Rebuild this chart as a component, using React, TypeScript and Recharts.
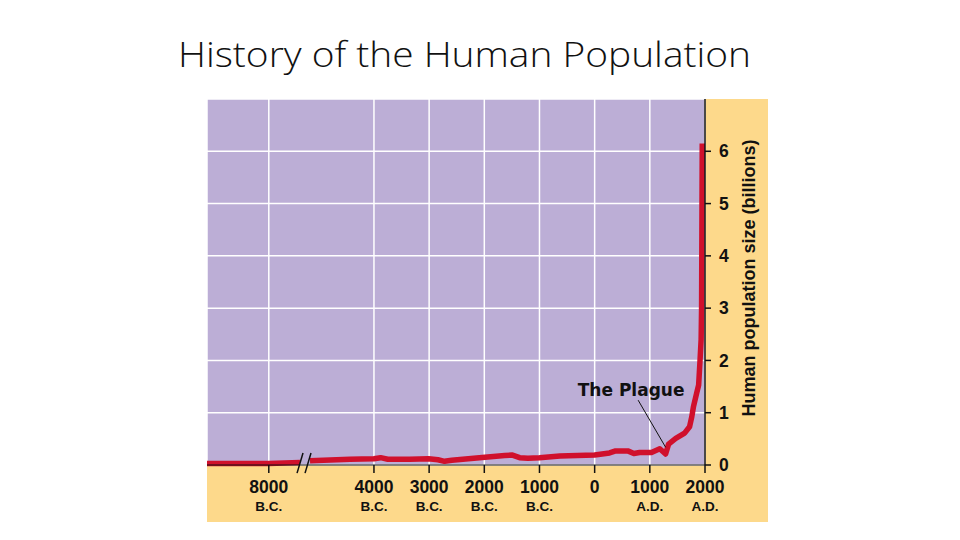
import {
  ComposedChart,
  Line,
  XAxis,
  YAxis,
  CartesianGrid,
  ReferenceLine,
  ReferenceDot,
} from "recharts";

// years (negative = B.C.) and world population in billions
const years = [
  -9120, -8000, -6812, -6650, -6432, -4910, -4000, -3880, -3750, -3350, -3010,
  -2840, -2720, -2590, -1990, -1630, -1490, -1360, -1210, -1000, -630, 0, 270,
  380, 600, 710, 815, 1030, 1180, 1286, 1340, 1470, 1630, 1720, 1760, 1790,
  1850, 1885, 1910, 1930, 1938, 1950,
];
const population: (number | null)[] = [
  0.03, 0.03, 0.05, null, 0.08, 0.11, 0.12, 0.14, 0.11, 0.11, 0.12, 0.1, 0.07,
  0.09, 0.15, 0.18, 0.19, 0.14, 0.13, 0.14, 0.17, 0.19, 0.23, 0.27, 0.27, 0.22,
  0.24, 0.24, 0.31, 0.21, 0.4, 0.51, 0.61, 0.73, 0.92, 1.11, 1.38, 1.53, 2.0,
  2.4, 3.0, 6.15,
];

const tickYears = [-8000, -4000, -3000, -2000, -1000, 0, 1000, 2000];
const tickNumbers = ["8000", "4000", "3000", "2000", "1000", "0", "1000", "2000"];
const tickEras = ["B.C.", "B.C.", "B.C.", "B.C.", "B.C.", "", "A.D.", "A.D."];
const popTicks = [0, 1, 2, 3, 4, 5, 6];

// the 8000–4000 B.C. stretch is squeezed (broken axis)
const BREAK_FROM = -8000;
const BREAK_TO = -4000;
const BREAK_SPAN = 1.906;
const breakMarks = [-6812, -6508];

const plagueText = { year: 661, pop: 1.32 };
const plagueArrow = { fromYear: 788, fromPop: 1.24, toYear: 1286, toPop: 0.34 };

const pos = (yr: number) => {
  if (yr >= BREAK_TO) return yr / 1000;
  if (yr >= BREAK_FROM)
    return BREAK_TO / 1000 - ((BREAK_TO - yr) / (BREAK_TO - BREAK_FROM)) * BREAK_SPAN;
  return BREAK_TO / 1000 - BREAK_SPAN - (BREAK_FROM - yr) / 1000;
};

const data = years.map((yr, i) => ({ x: pos(yr), pop: population[i] }));
const tickPos = tickYears.map(pos);

const PURPLE = "#bcaed6";
const YELLOW = "#fdd98b";
const RED = "#d0102c";
const FONT = "'Liberation Sans', Arial, Helvetica, sans-serif";

const YearTick = ({ x, y, payload }: any) => {
  let i = 0;
  tickPos.forEach((p, k) => {
    if (Math.abs(p - payload.value) < Math.abs(tickPos[i] - payload.value)) i = k;
  });
  return (
    <g fontFamily={FONT} fontWeight="bold" fill="#111">
      <text x={x} y={y + 20} textAnchor="middle" fontSize={17.5}>
        {tickNumbers[i]}
      </text>
      <text x={x} y={y + 38} textAnchor="middle" fontSize={13.5}>
        {tickEras[i]}
      </text>
    </g>
  );
};

const AxisTitle = ({ viewBox }: any) => {
  const cx = viewBox.x + viewBox.width / 2;
  const cy = viewBox.y + viewBox.height / 2 - 4;
  return (
    <text
      x={cx}
      y={cy}
      transform={`rotate(-90, ${cx}, ${cy})`}
      textAnchor="middle"
      dy="0.36em"
      fontFamily={FONT}
      fontWeight="bold"
      fontSize={18}
      fill="#111"
    >
      Human population size (billions)
    </text>
  );
};

const slashW = 0.054;

export default function App() {
  return (
    <div style={{ position: "absolute", left: 0, top: 0, width: 960, height: 540, background: "#fff" }}>
      <svg width={960} height={95} style={{ position: "absolute", left: 0, top: 0 }}>
        <text
          x={178}
          y={67}
          textLength={573}
          lengthAdjust="spacingAndGlyphs"
          fontFamily="'Open Sans', Lato, sans-serif"
          fontWeight={300}
          fontSize={34}
          fill="#111"
        >
          History of the Human Population
        </text>
      </svg>
      <div style={{ position: "absolute", left: 207, top: 99, width: 561, height: 423, background: YELLOW }} />
      <div style={{ position: "absolute", left: 0, top: 0 }}>
        <ComposedChart
          width={960}
          height={540}
          data={data}
          margin={{ top: 99, left: 207, right: 168, bottom: 15 }}
        >
          <CartesianGrid fill={PURPLE} fillOpacity={1} stroke="#ffffff" strokeWidth={1.5} />
          <XAxis
            dataKey="x"
            type="number"
            domain={[pos(-9120), 2]}
            ticks={tickPos}
            height={60}
            tickSize={8}
            tickMargin={0}
            tickLine={{ stroke: "#111", strokeWidth: 1.5 }}
            axisLine={{ stroke: "#111", strokeWidth: 1.2 }}
            tick={<YearTick />}
            interval={0}
          />
          <YAxis
            orientation="right"
            type="number"
            domain={[0, 7]}
            ticks={popTicks}
            width={87}
            tickSize={6}
            tickMargin={8}
            tickLine={{ stroke: "#111", strokeWidth: 1.5 }}
            axisLine={{ stroke: "#111", strokeWidth: 1.5 }}
            tick={{ fontFamily: FONT, fontWeight: "bold", fontSize: 17.5, fill: "#111" }}
            label={<AxisTitle />}
          />
          <Line
            dataKey="pop"
            type="linear"
            stroke={RED}
            strokeWidth={5.5}
            strokeLinejoin="round"
            dot={false}
            activeDot={false}
            connectNulls={false}
            isAnimationActive={false}
          />
          {breakMarks.map((b) => (
            <ReferenceLine
              key={b}
              segment={[
                { x: pos(b) - slashW, y: -0.155 },
                { x: pos(b) + slashW, y: 0.23 },
              ]}
              stroke="#111"
              strokeWidth={1.5}
              ifOverflow="visible"
            />
          ))}
          <ReferenceLine
            segment={[
              { x: pos(plagueArrow.fromYear), y: plagueArrow.fromPop },
              { x: pos(plagueArrow.toYear), y: plagueArrow.toPop },
            ]}
            stroke="#111"
            strokeWidth={1}
            ifOverflow="visible"
          />
          <ReferenceDot
            x={pos(plagueText.year)}
            y={plagueText.pop}
            r={0}
            ifOverflow="visible"
            shape={(p: any) => (
              <text
                x={p.cx}
                y={p.cy}
                textAnchor="middle"
                fontFamily="'DejaVu Sans', sans-serif"
                fontWeight="bold"
                fontSize={17}
                fill="#111"
              >
                The Plague
              </text>
            )}
          />
        </ComposedChart>
      </div>
    </div>
  );
}
